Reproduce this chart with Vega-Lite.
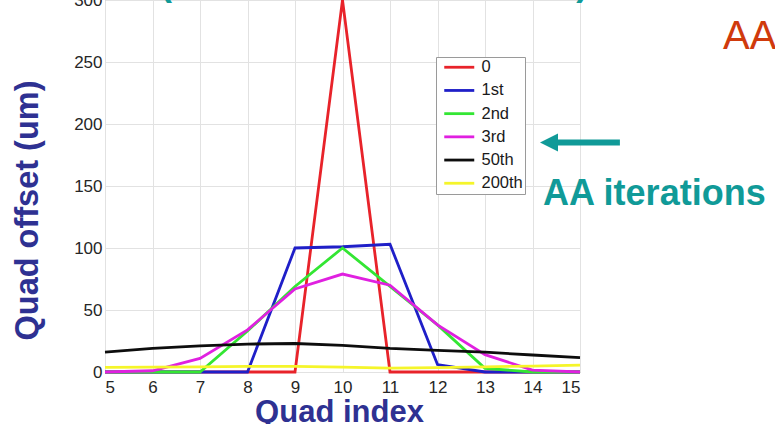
{
  "$schema": "https://vega.github.io/schema/vega-lite/v6.json",
  "width": 475,
  "height": 372,
  "autosize": {"type": "none"},
  "padding": {"left": 105, "top": 0, "right": 195, "bottom": 52},
  "background": "white",
  "config": {
    "font": "Liberation Sans",
    "view": {"stroke": "#9c9c9c", "strokeWidth": 1},
    "axis": {
      "grid": true,
      "gridColor": "#e2e2e2",
      "gridWidth": 1,
      "domain": false,
      "ticks": false,
      "tickSize": 0,
      "labelFont": "Liberation Sans",
      "labelFontSize": 17,
      "labelColor": "#262626",
      "titleFont": "Liberation Sans",
      "titleFontSize": 31,
      "titleFontWeight": "bold",
      "titleColor": "#2e3192"
    },
    "legend": {
      "orient": "none",
      "legendX": 331,
      "legendY": 57,
      "padding": 2,
      "rowPadding": 6.2,
      "symbolType": "M -3 0 H 3",
      "symbolSize": 100,
      "symbolOffset": 13,
      "symbolStrokeWidth": 2.8,
      "symbolFillColor": "transparent",
      "labelFont": "Liberation Sans",
      "labelFontSize": 16.5,
      "labelColor": "#1a1a1a",
      "labelOffset": 14,
      "strokeColor": "#9a9a9a",
      "fillColor": "white"
    }
  },
  "layer": [
    {
      "data": {
        "values": [
          {"x": 5, "y": 0, "iter": "0"}, {"x": 6, "y": 0, "iter": "0"}, {"x": 7, "y": 0, "iter": "0"},
          {"x": 8, "y": 0, "iter": "0"}, {"x": 9, "y": 0, "iter": "0"}, {"x": 10, "y": 300, "iter": "0"},
          {"x": 11, "y": 0, "iter": "0"}, {"x": 12, "y": 0, "iter": "0"}, {"x": 13, "y": 0, "iter": "0"},
          {"x": 14, "y": 0, "iter": "0"}, {"x": 15, "y": 0, "iter": "0"},

          {"x": 5, "y": 0, "iter": "1st"}, {"x": 6, "y": 0, "iter": "1st"}, {"x": 7, "y": 0, "iter": "1st"},
          {"x": 8, "y": 0, "iter": "1st"}, {"x": 9, "y": 100, "iter": "1st"}, {"x": 10, "y": 101, "iter": "1st"},
          {"x": 11, "y": 103, "iter": "1st"}, {"x": 12, "y": 6, "iter": "1st"}, {"x": 13, "y": 0, "iter": "1st"},
          {"x": 14, "y": 0, "iter": "1st"}, {"x": 15, "y": 0, "iter": "1st"},

          {"x": 5, "y": 0, "iter": "2nd"}, {"x": 6, "y": 0, "iter": "2nd"}, {"x": 7, "y": 0, "iter": "2nd"},
          {"x": 8, "y": 33, "iter": "2nd"}, {"x": 9, "y": 69, "iter": "2nd"}, {"x": 10, "y": 100, "iter": "2nd"},
          {"x": 11, "y": 69, "iter": "2nd"}, {"x": 12, "y": 38, "iter": "2nd"}, {"x": 13, "y": 3, "iter": "2nd"},
          {"x": 14, "y": 0, "iter": "2nd"}, {"x": 15, "y": 0, "iter": "2nd"},

          {"x": 5, "y": 0, "iter": "3rd"}, {"x": 6, "y": 1, "iter": "3rd"}, {"x": 7, "y": 11, "iter": "3rd"},
          {"x": 8, "y": 34, "iter": "3rd"}, {"x": 9, "y": 67, "iter": "3rd"}, {"x": 10, "y": 79, "iter": "3rd"},
          {"x": 11, "y": 70, "iter": "3rd"}, {"x": 12, "y": 38, "iter": "3rd"}, {"x": 13, "y": 14, "iter": "3rd"},
          {"x": 14, "y": 1.5, "iter": "3rd"}, {"x": 15, "y": 0, "iter": "3rd"},

          {"x": 5, "y": 16, "iter": "50th"}, {"x": 6, "y": 19, "iter": "50th"}, {"x": 7, "y": 21, "iter": "50th"},
          {"x": 8, "y": 22.5, "iter": "50th"}, {"x": 9, "y": 23, "iter": "50th"}, {"x": 10, "y": 21.5, "iter": "50th"},
          {"x": 11, "y": 19, "iter": "50th"}, {"x": 12, "y": 17.5, "iter": "50th"}, {"x": 13, "y": 16, "iter": "50th"},
          {"x": 14, "y": 13.7, "iter": "50th"}, {"x": 15, "y": 11.6, "iter": "50th"},

          {"x": 5, "y": 3.8, "iter": "200th"}, {"x": 6, "y": 4, "iter": "200th"}, {"x": 7, "y": 4.2, "iter": "200th"},
          {"x": 8, "y": 4.5, "iter": "200th"}, {"x": 9, "y": 4.5, "iter": "200th"}, {"x": 10, "y": 4, "iter": "200th"},
          {"x": 11, "y": 3.2, "iter": "200th"}, {"x": 12, "y": 3.6, "iter": "200th"}, {"x": 13, "y": 4.2, "iter": "200th"},
          {"x": 14, "y": 4.8, "iter": "200th"}, {"x": 15, "y": 5.5, "iter": "200th"}
        ]
      },
      "mark": {"type": "line", "strokeWidth": 2.8, "clip": false},
      "encoding": {
        "x": {
          "field": "x", "type": "quantitative",
          "scale": {"domain": [5, 15], "nice": false, "zero": false},
          "axis": {
            "values": [5, 6, 7, 8, 9, 10, 11, 12, 13, 14, 15],
            "labelPadding": 7,
            "title": "Quad index",
            "titleX": 234,
            "titleY": 49,
            "titleBaseline": "alphabetic",
            "titleAnchor": "middle"
          }
        },
        "y": {
          "field": "y", "type": "quantitative",
          "scale": {"domain": [0, 300], "nice": false},
          "axis": {
            "values": [0, 50, 100, 150, 200, 250, 300],
            "labelPadding": 3,
            "title": "Quad offset (um)",
            "titleFontSize": 32.5,
            "titleAngle": -90,
            "titleX": -68,
            "titleY": 210,
            "titleBaseline": "alphabetic",
            "titleAlign": "center"
          }
        },
        "color": {
          "field": "iter", "type": "nominal",
          "scale": {
            "domain": ["0", "1st", "2nd", "3rd", "50th", "200th"],
            "range": ["#e8232a", "#1f1fc8", "#33e633", "#e020e0", "#0d0d0d", "#f5f52a"]
          },
          "legend": {"title": null}
        }
      }
    },
    {
      "data": {"values": [{"x": 14.47, "x2": 15.84, "y": 185}]},
      "mark": {"type": "rule", "color": "#109a98", "strokeWidth": 6, "clip": false},
      "encoding": {
        "x": {"field": "x", "type": "quantitative", "scale": {"domain": [5, 15], "nice": false, "zero": false}},
        "x2": {"field": "x2"},
        "y": {"field": "y", "type": "quantitative", "scale": {"domain": [0, 300], "nice": false}}
      }
    },
    {
      "data": {"values": [{"x": 14.347, "y": 185}]},
      "mark": {
        "type": "point", "filled": true, "opacity": 1, "color": "#109a98",
        "shape": "M -1 0 L 1 -1 L 1 1 Z", "size": 324, "clip": false
      },
      "encoding": {
        "x": {"field": "x", "type": "quantitative", "scale": {"domain": [5, 15], "nice": false, "zero": false}},
        "y": {"field": "y", "type": "quantitative", "scale": {"domain": [0, 300], "nice": false}}
      }
    },
    {
      "data": {
        "values": [
          {"x": 14.22, "y": 134.6, "label": "AA iterations"},
          {"x": 6.16, "y": 304, "label": "("},
          {"x": 14.92, "y": 304, "label": ")"}
        ]
      },
      "mark": {
        "type": "text", "align": "left", "baseline": "alphabetic",
        "font": "Liberation Sans", "fontSize": 36, "fontWeight": "bold",
        "color": "#109a98", "clip": false
      },
      "encoding": {
        "x": {"field": "x", "type": "quantitative", "scale": {"domain": [5, 15], "nice": false, "zero": false}},
        "y": {"field": "y", "type": "quantitative", "scale": {"domain": [0, 300], "nice": false}},
        "text": {"field": "label"}
      }
    },
    {
      "data": {"values": [{"x": 18.01, "y": 260.5, "label": "AA"}]},
      "mark": {
        "type": "text", "align": "left", "baseline": "alphabetic",
        "font": "Liberation Sans", "fontSize": 40,
        "color": "#d03a0c", "clip": false
      },
      "encoding": {
        "x": {"field": "x", "type": "quantitative", "scale": {"domain": [5, 15], "nice": false, "zero": false}},
        "y": {"field": "y", "type": "quantitative", "scale": {"domain": [0, 300], "nice": false}},
        "text": {"field": "label"}
      }
    }
  ]
}
